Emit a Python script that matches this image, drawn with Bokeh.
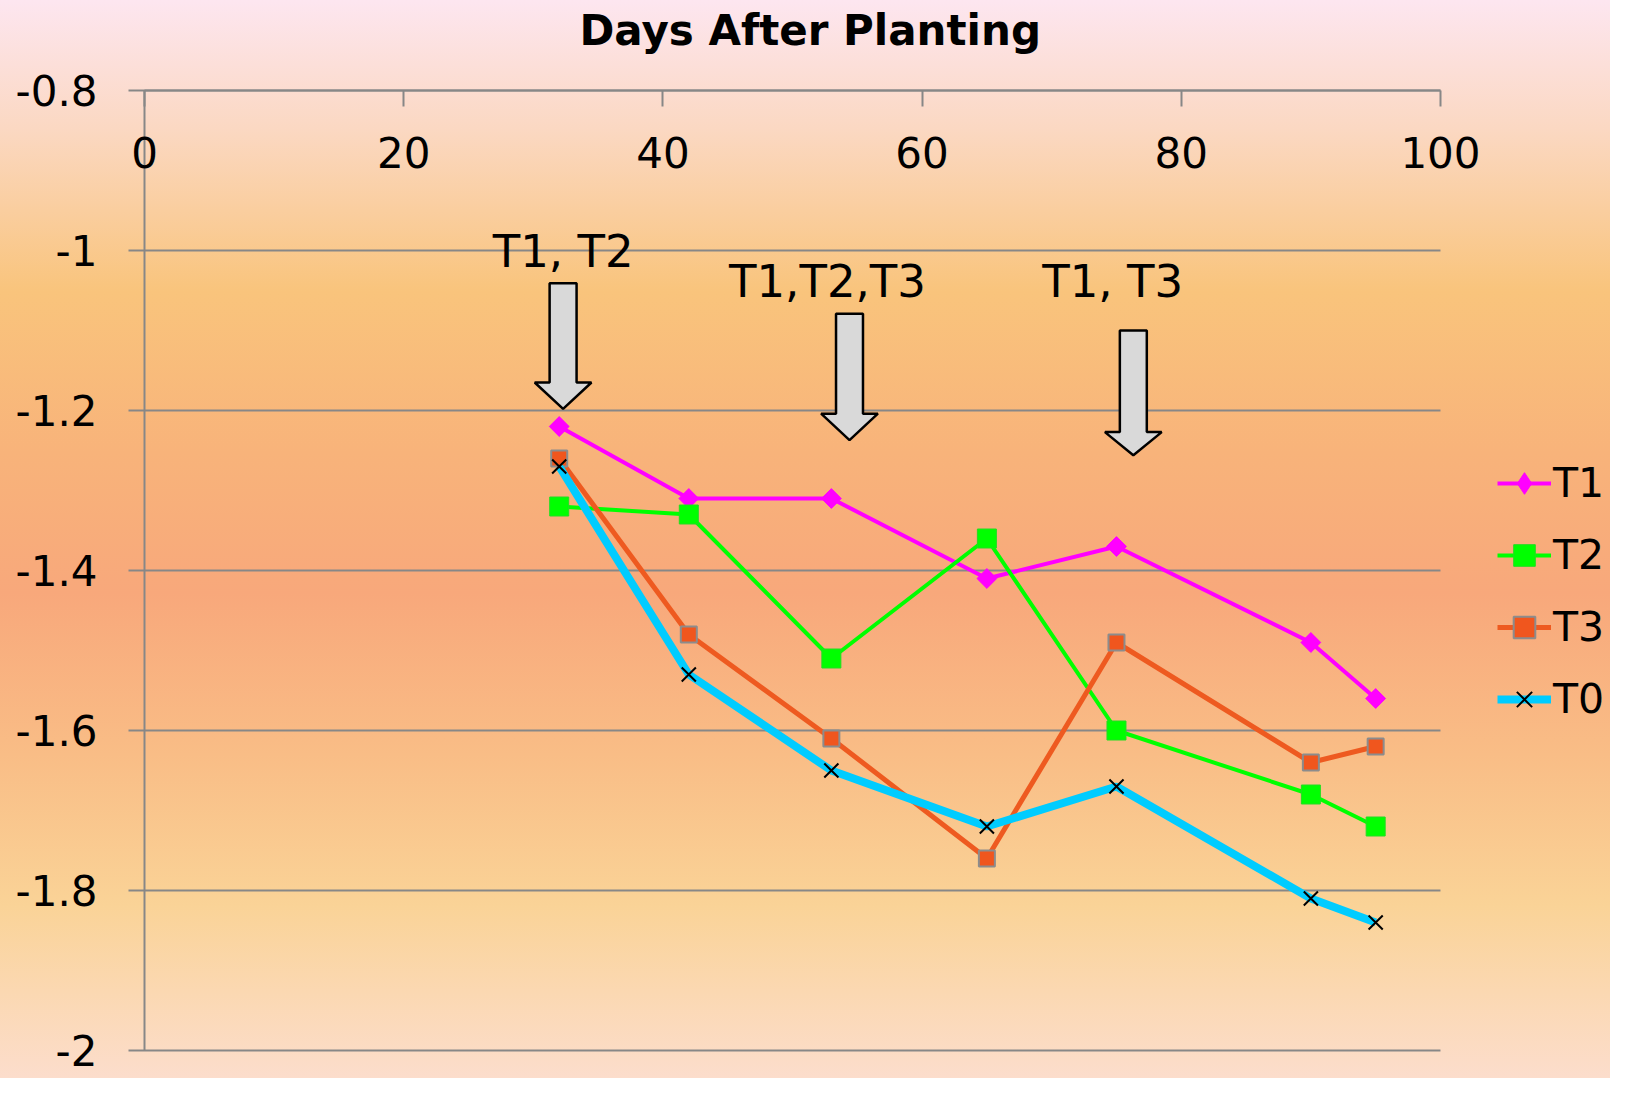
import math
from bokeh.plotting import figure
from bokeh.models import (FixedTicker, CustomJSTickFormatter, Legend, LegendItem, Range1d)
from bokeh.embed import file_html
from bokeh.resources import INLINE
from bokeh.core.properties import value

# ---------------- data ----------------
days = [32, 42, 53, 65, 75, 90, 95]
t1 = [-1.22, -1.31, -1.31, -1.41, -1.37, -1.49, -1.56]
t2 = [-1.32, -1.33, -1.51, -1.36, -1.60, -1.68, -1.72]
t3 = [-1.26, -1.48, -1.61, -1.76, -1.49, -1.64, -1.62]
t0 = [-1.27, -1.53, -1.65, -1.72, -1.67, -1.81, -1.84]

x_ticks = [0, 20, 40, 60, 80, 100]
y_ticks = [-2.0, -1.8, -1.6, -1.4, -1.2, -1.0, -0.8]

note_labels = ["T1, T2", "T1,T2,T3", "T1, T3"]
note_x = [32.3, 52.7, 74.7]
note_y = [-1.001, -1.039, -1.039]

arrow_x = [32.3, 54.4, 76.3]
arrow_top = [-1.041, -1.079, -1.100]
arrow_neck = [-1.165, -1.204, -1.227]
arrow_tip = [-1.198, -1.237, -1.256]

FONT = "DejaVu Sans"
GRID = "#878787"

X_MIN, X_MAX = 0, 100
Y_MIN, Y_MAX = -2.0, -0.8

PX_PER_X = 12.96          # screen px per day
TICK_OUT = 16 / PX_PER_X  # length of the y tick stubs, in x units

p = figure(width=1610, height=1078, output_backend="svg", toolbar_location=None,
           x_range=Range1d(-1.389, 113.12), y_range=Range1d(-2.005, -0.755),
           x_axis_location="above",
           min_border_left=126, min_border_right=0, min_border_top=54, min_border_bottom=24)
p.background_fill_alpha = 0
p.border_fill_alpha = 0
p.outline_line_color = None
p.styles = {"background": "linear-gradient(to bottom, #FDE6F0 0%, #FBD8C2 12%, #F9C47C 27%, "
                          "#F8B37A 42%, #F8A87B 55%, #F9BD86 70%, #FAD397 84%, #FCDDCC 100%)"}

# title
p.title.text = "Days After Planting"
p.title.align = "left"
p.title.text_font = FONT
p.title.text_font_size = "42px"
p.title.text_font_style = "bold"
p.title.text_color = "black"
p.title.offset = 453
p.title.standoff = 0

# x axis (top, at y = -0.8), labels pushed inside the frame
xa = p.xaxis[0]
xa.fixed_location = Y_MAX
xa.ticker = FixedTicker(ticks=x_ticks)
xa.bounds = (X_MIN, X_MAX)
xa.axis_line_color = GRID
xa.axis_line_width = 2
xa.major_tick_line_color = GRID
xa.major_tick_line_width = 2
xa.major_tick_in = 16
xa.major_tick_out = 0
xa.minor_tick_line_color = None
xa.major_label_text_font = FONT
xa.major_label_text_font_size = "42px"
xa.major_label_text_color = "black"
xa.major_label_standoff = -77

# y axis: labels from the axis; its rule is drawn at x = 0 below
ya = p.yaxis[0]
ya.ticker = FixedTicker(ticks=y_ticks)
ya.bounds = (Y_MIN, Y_MAX)
ya.formatter = CustomJSTickFormatter(code="return (Math.round(tick*10)/10).toString();")
ya.axis_line_color = None
ya.major_tick_line_color = None
ya.major_tick_in = 0
ya.major_tick_out = 0
ya.minor_tick_line_color = None
ya.major_label_text_font = FONT
ya.major_label_text_font_size = "42px"
ya.major_label_text_color = "black"
ya.major_label_standoff = 29

p.xgrid.grid_line_color = None
p.ygrid.grid_line_color = None

# horizontal gridlines (with the small outward tick stubs) and the vertical rule at x = 0
p.segment(x0=[X_MIN - TICK_OUT] * len(y_ticks), y0=y_ticks,
          x1=[X_MAX] * len(y_ticks), y1=y_ticks, line_color=GRID, line_width=2)
p.segment(x0=[X_MIN], y0=[Y_MIN], x1=[X_MIN], y1=[Y_MAX], line_color=GRID, line_width=2)

# block arrows
hw_shaft = 1.04
hw_head = 2.19
xs, ys = [], []
for cx, top, neck, tip in zip(arrow_x, arrow_top, arrow_neck, arrow_tip):
    xs.append([cx - hw_shaft, cx + hw_shaft, cx + hw_shaft, cx + hw_head, cx,
               cx - hw_head, cx - hw_shaft])
    ys.append([top, top, neck, neck, tip, neck, neck])
p.patches(xs, ys, fill_color="#D9D9D9", line_color="black", line_width=2.5)

# notes
p.text(x=note_x, y=note_y, text=note_labels, text_font=value(FONT),
       text_font_size="45px", text_align="center", text_baseline="alphabetic",
       text_color="black")

# series
l1 = p.line(days, t1, line_color="#FF00FF", line_width=4)
s1 = p.scatter(days, t1, marker="square", angle=math.pi / 4, size=14,
               fill_color="#FF00FF", line_color="#FF00FF")
l2 = p.line(days, t2, line_color="#00FF00", line_width=4)
s2 = p.scatter(days, t2, marker="square", size=19, fill_color="#00FF00",
               line_color="#22DD22", line_width=1)
l3 = p.line(days, t3, line_color="#EE5A20", line_width=5)
s3 = p.scatter(days, t3, marker="square", size=16, fill_color="#F0561E",
               line_color="#8C8C8C", line_width=2)
l0 = p.line(days, t0, line_color="#00CCFF", line_width=8)
s0 = p.scatter(days, t0, marker="x", size=20, line_color="black", line_width=2)

# legend-only marker proxy for the diamond
d1 = p.scatter([float("nan")], [float("nan")], marker="diamond", size=22,
               fill_color="#FF00FF", line_color="#FF00FF")

legend = Legend(items=[LegendItem(label="T1", renderers=[l1, d1]),
                       LegendItem(label="T2", renderers=[l2, s2]),
                       LegendItem(label="T3", renderers=[l3, s3]),
                       LegendItem(label="T0", renderers=[l0, s0])],
                location=(1371, 319), orientation="vertical")
legend.label_text_font = FONT
legend.label_text_font_size = "41px"
legend.label_text_color = "black"
legend.glyph_width = 54
legend.glyph_height = 72
legend.label_height = 72
legend.label_standoff = 2
legend.spacing = 0
legend.margin = 0
legend.padding = 0
legend.border_line_color = None
legend.background_fill_alpha = 0
p.add_layout(legend)

html = file_html(p, INLINE)
open("out.html", "w").write(html)
